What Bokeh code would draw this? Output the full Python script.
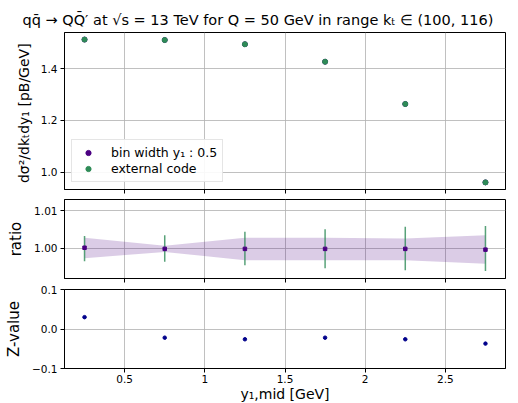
from bokeh.plotting import figure
from bokeh.layouts import column
from bokeh.models import FixedTicker, Legend, LegendItem, Range1d, PrintfTickFormatter
from bokeh.embed import file_html
from bokeh.resources import INLINE

# ---- data ----
y_mid = [0.25, 0.75, 1.25, 1.75, 2.25, 2.75]
xsec_bin = [1.5127, 1.5110, 1.4946, 1.4270, 1.2636, 0.9605]
xsec_ext = [1.5127, 1.5110, 1.4946, 1.4270, 1.2636, 0.9605]
ratio = [1.0002, 0.9999, 0.9999, 0.9999, 0.9999, 0.9997]
ext_lo = [0.99666, 0.9965, 0.9956, 0.9948, 0.9943, 0.9941]
ext_hi = [1.0033, 1.0035, 1.0044, 1.0051, 1.0057, 1.0059]
band_lo = [0.99745, 0.9991, 0.9969, 0.9969, 0.9969, 0.9960]
band_hi = [1.0028, 1.0007, 1.0028, 1.0028, 1.0026, 1.0035]
zval = [0.030, -0.022, -0.026, -0.022, -0.026, -0.037]

x_ticks = [0.5, 1.0, 1.5, 2.0, 2.5]
top_ticks = [1.0, 1.2, 1.4]
ratio_ticks = [1.00, 1.01]
z_ticks = [-0.1, 0.0, 0.1]

PURPLE = "#4b0082"
GREEN = "#2e8b57"
NAVY = "#00008b"
FONT = "DejaVu Sans"
XR = (0.125, 2.875)

def style(p):
    p.outline_line_color = "black"
    p.outline_line_width = 1
    p.outline_line_alpha = 1
    for ax in (p.xaxis[0], p.yaxis[0]):
        ax.axis_line_color = "black"
        ax.major_tick_line_color = "black"
        ax.major_tick_out = 4
        ax.major_tick_in = 0
        ax.minor_tick_line_color = None
        ax.major_label_text_font = FONT
        ax.major_label_text_font_size = "10.5px"
        ax.major_label_text_color = "black"
        ax.axis_label_text_font = FONT
        ax.axis_label_text_font_size = "15px"
        ax.axis_label_text_font_style = "normal"
        ax.axis_label_text_color = "black"
    p.xgrid.grid_line_color = "#b0b0b0"
    p.ygrid.grid_line_color = "#b0b0b0"
    p.xgrid.grid_line_alpha = 0.8
    p.ygrid.grid_line_alpha = 0.8
    p.xaxis.ticker = FixedTicker(ticks=x_ticks)
    p.yaxis.major_label_standoff = 3
    p.yaxis.axis_label_standoff = 6

def hide_xlabels(p):
    p.xaxis.major_label_text_color = None
    p.xaxis.major_label_text_font_size = "1px"
    p.xaxis.major_label_standoff = 0

common = dict(output_backend="svg", toolbar_location=None, tools="",
              frame_width=441, min_border_left=64, min_border_right=13)

# ---- top panel ----
p1 = figure(frame_height=157, min_border_top=32, min_border_bottom=5,
            x_range=Range1d(*XR), y_range=Range1d(0.933, 1.540), **common)
style(p1)
hide_xlabels(p1)
p1.yaxis.ticker = FixedTicker(ticks=top_ticks)
p1.yaxis.formatter = PrintfTickFormatter(format="%.1f")
p1.yaxis.axis_label = "dσ²/dkₜdy₁  [pB/GeV]"
p1.yaxis.axis_label_text_font_size = "14px"
p1.title.text = "qq̄ → QQ̄′ at √s = 13 TeV for Q = 50 GeV in range kₜ ∈ (100, 116)"
p1.title.text_font = FONT
p1.title.text_font_size = "14.5px"
p1.title.text_font_style = "normal"
p1.title.text_color = "black"
p1.title.align = "left"
p1.title.offset = -42
r_bin = p1.scatter(y_mid, xsec_bin, size=5, color=PURPLE)
r_ext = p1.scatter(y_mid, xsec_ext, size=5, color=GREEN)
leg = Legend(items=[LegendItem(label="bin width y₁ : 0.5", renderers=[r_bin]),
                    LegendItem(label="external code", renderers=[r_ext])],
             location=(7, 7), label_text_font=FONT, label_text_font_size="12.5px",
             label_text_color="black",
             border_line_color="#cccccc", border_line_width=1,
             background_fill_alpha=0.9, glyph_width=22, glyph_height=13,
             label_standoff=12, spacing=1, padding=5, margin=0)
p1.add_layout(leg, "center")

# ---- ratio panel ----
p2 = figure(frame_height=79, min_border_top=5, min_border_bottom=5,
            x_range=p1.x_range, y_range=Range1d(0.9921, 1.0129), **common)
style(p2)
hide_xlabels(p2)
p2.yaxis.ticker = FixedTicker(ticks=ratio_ticks)
p2.yaxis.formatter = PrintfTickFormatter(format="%.2f")
p2.yaxis.axis_label = "ratio"
p2.varea(x=y_mid, y1=band_lo, y2=band_hi, fill_color=PURPLE, fill_alpha=0.2)
p2.segment(x0=y_mid, y0=ext_lo, x1=y_mid, y1=ext_hi, line_color=GREEN,
           line_width=1.5, line_alpha=0.8)
p2.scatter(y_mid, ratio, size=3.5, color=PURPLE, marker="square")

# ---- Z-value panel ----
p3 = figure(frame_height=79, min_border_top=6, min_border_bottom=35,
            x_range=p1.x_range, y_range=Range1d(-0.1, 0.1), **common)
style(p3)
p3.yaxis.ticker = FixedTicker(ticks=z_ticks)
p3.yaxis.major_label_overrides = {-0.1: "−0.1", 0: "0.0", 0.1: "0.1"}
p3.yaxis.axis_label = "Z-value"
p3.xaxis.axis_label = "y₁,mid [GeV]"
p3.xaxis.axis_label_text_font_size = "14px"
p3.xaxis.axis_label_standoff = 0
p3.xaxis.major_label_standoff = 2
p3.scatter(y_mid, zval, size=3.5, color=NAVY)

layout = column(p1, p2, p3, spacing=0)
open("out.html", "w").write(file_html(layout, INLINE))
